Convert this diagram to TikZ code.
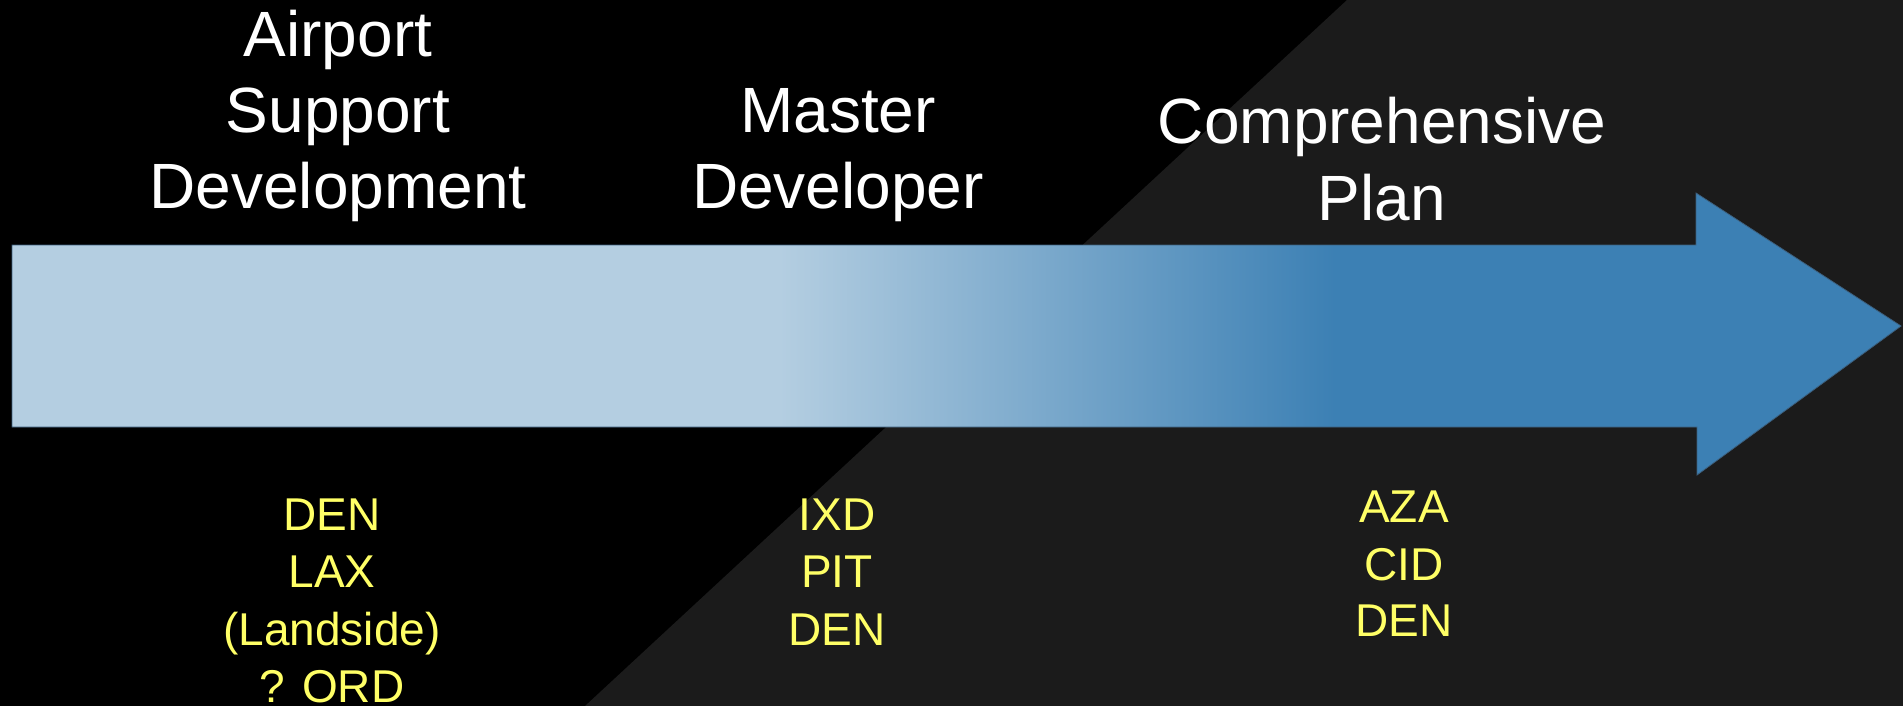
\documentclass[tikz,border=0pt]{standalone}
\usepackage{fontspec}
\setmainfont{Liberation Sans}
\definecolor{bgblack}{HTML}{000000}
\definecolor{bggray}{HTML}{1B1B1B}
\definecolor{lightb}{RGB}{180,206,225}
\definecolor{darkb}{RGB}{60,128,180}
\definecolor{outl}{RGB}{60,95,125}
\definecolor{ytext}{HTML}{FFFF66}
\pgfdeclarehorizontalshading{arrowshade}{100bp}{color(0bp)=(lightb); color(45.3bp)=(lightb); color(60bp)=(darkb); color(100bp)=(darkb)}
\tikzset{
  head/.style={anchor=base, text=white, inner sep=0pt, font=\fontsize{64}{75}\selectfont},
  code/.style={anchor=base, text=ytext, inner sep=0pt, font=\fontsize{46}{57}\selectfont},
}
\begin{document}
\begin{tikzpicture}[x=1pt,y=-1pt]
\useasboundingbox (0,0) rectangle (1903,706);
\fill[bgblack] (0,0) rectangle (1903,706);
\fill[bggray] (1347,0) -- (1903,0) -- (1903,706) -- (585,706) -- cycle;
% arrow
\path[shading=arrowshade, draw=outl, line width=0.8pt, line join=miter]
  (12,245) -- (1696,245) -- (1696,193) -- (1901,326) -- (1697,475) -- (1697,427) -- (12,427) -- cycle;
% headings
\node[head] (h1a) at (338,57) {Airport};
\node[head] (h1b) at (338,133) {Support};
\node[head] (h1c) at (338,208) {Development};
\node[head] (h2a) at (838,133) {Master};
\node[head] (h2b) at (838,208) {Developer};
\node[head] (h3a) at (1382,143) {Comprehensive};
\node[head] (h3b) at (1382,220) {Plan};
% codes
\node[code] (c1a) at (332,530) {DEN};
\node[code] (c1b) at (332,587) {LAX};
\node[code] (c1c) at (332,645) {(Landside)};
\node[code] (c1d) at (332,702) {? ORD};
\node[code] (c2a) at (837,530) {IXD};
\node[code] (c2b) at (837,587) {PIT};
\node[code] (c2c) at (837,645) {DEN};
\node[code] (c3a) at (1404,522) {AZA};
\node[code] (c3b) at (1404,580) {CID};
\node[code] (c3c) at (1404,636) {DEN};
\end{tikzpicture}
\end{document}
